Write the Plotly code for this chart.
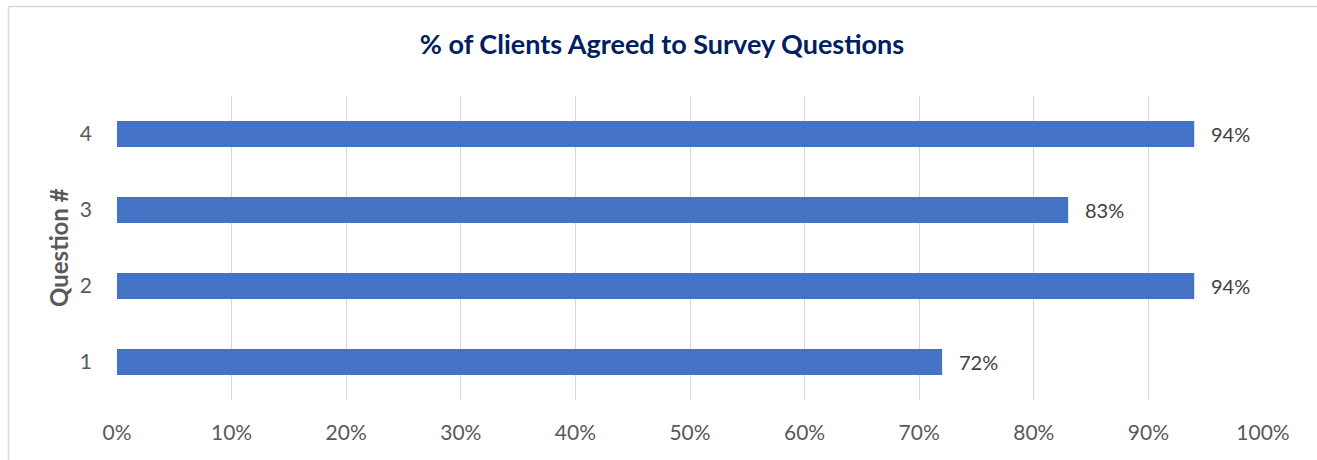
import plotly.graph_objects as go

# Survey results: share of clients agreeing to each question
questions = ["1", "2", "3", "4"]
agreed_pct = [72, 94, 83, 94]
x_ticks = list(range(0, 101, 10))
x_tick_labels = [f"{v}%" for v in x_ticks]

W, H = 1317, 460
L, R, T, B = 117, 54, 96, 60
plot_w = W - L - R
plot_h = H - T - B

FONT = "Lato, 'Open Sans', sans-serif"

fig = go.Figure(
    go.Bar(
        y=questions,
        x=agreed_pct,
        orientation="h",
        marker=dict(color="#4472C4", line=dict(width=0)),
        width=0.34,
        hoverinfo="skip",
    )
)

# Value labels to the right of each bar (category axis: y given as position index)
for i, v in enumerate(agreed_pct):
    fig.add_annotation(
        x=v, y=i, xref="x", yref="y",
        text=f"{v}%", showarrow=False,
        xanchor="left", yanchor="middle", xshift=15,
        font=dict(family=FONT, size=20, color="#404040"),
    )

# Frame lines of the chart area (left and top edges)
px_to_paper_x = lambda px: (px - L) / plot_w
px_to_paper_y = lambda py: (H - B - py) / plot_h
fig.add_shape(type="line", xref="paper", yref="paper",
              x0=px_to_paper_x(8.5), x1=px_to_paper_x(W + 5),
              y0=px_to_paper_y(6.5), y1=px_to_paper_y(6.5),
              line=dict(color="#D9D9D9", width=1.5))
fig.add_shape(type="line", xref="paper", yref="paper",
              x0=px_to_paper_x(8.5), x1=px_to_paper_x(8.5),
              y0=px_to_paper_y(6.5), y1=px_to_paper_y(H + 5),
              line=dict(color="#D9D9D9", width=1.5))

fig.add_annotation(
    text="<b>Question #</b>", textangle=-90,
    xref="paper", yref="paper",
    x=px_to_paper_x(58), y=px_to_paper_y(248), xanchor="center", yanchor="middle",
    showarrow=False,
    font=dict(family=FONT, size=24, color="#595959"),
)

fig.update_layout(
    width=W, height=H,
    margin=dict(l=L, r=R, t=T, b=B, pad=0),
    paper_bgcolor="white", plot_bgcolor="white",
    showlegend=False,
    title=dict(
        text="<b>% of Clients Agreed to Survey Questions</b>",
        x=(662 / W), xref="container", xanchor="center",
        y=1 - 45 / H, yanchor="middle",
        font=dict(family=FONT, size=27, color="#002060"),
    ),
    xaxis=dict(
        range=[0, 100],
        tickvals=x_ticks, ticktext=x_tick_labels,
        showgrid=True, gridcolor="#D9D9D9", gridwidth=1,
        zeroline=False, showline=False,
        ticks="", ticklabelstandoff=18,
        tickfont=dict(family=FONT, size=21, color="#595959"),
    ),
    yaxis=dict(
        categoryorder="array", categoryarray=questions,
        range=[-0.5, 3.5],
        showgrid=False, zeroline=False, showline=False,
        ticks="", ticklabelstandoff=24,
        tickfont=dict(family=FONT, size=21, color="#595959"),
    ),
)

fig.write_html("out.html")
